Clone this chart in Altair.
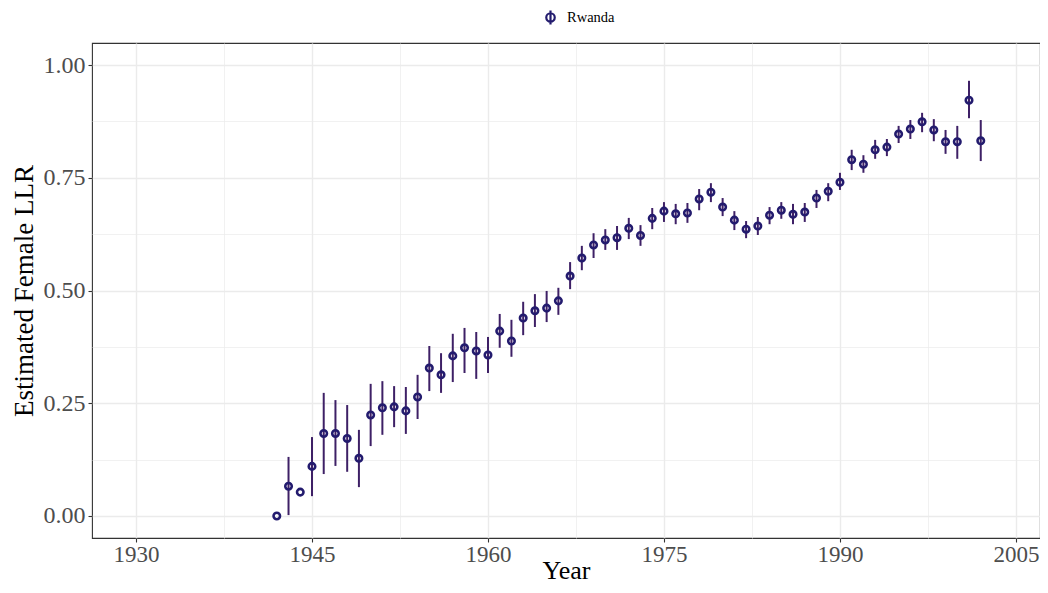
import altair as alt
import pandas as pd

years = list(range(1942, 2003))
estimate = [0.000, 0.066, 0.053, 0.110, 0.183, 0.183, 0.172, 0.128, 0.224, 0.240,
            0.242, 0.233, 0.264, 0.328, 0.313, 0.355, 0.373, 0.366, 0.357, 0.410,
            0.388, 0.439, 0.455, 0.461, 0.477, 0.532, 0.572, 0.601, 0.612, 0.617,
            0.638, 0.622, 0.660, 0.676, 0.670, 0.672, 0.703, 0.718, 0.685, 0.656,
            0.636, 0.643, 0.667, 0.678, 0.669, 0.674, 0.705, 0.720, 0.740, 0.790,
            0.780, 0.812, 0.818, 0.847, 0.858, 0.874, 0.856, 0.830, 0.830, 0.922,
            0.832]
lower = [0.000, 0.002, 0.053, 0.044, 0.093, 0.111, 0.098, 0.064, 0.155, 0.180,
         0.197, 0.182, 0.215, 0.277, 0.273, 0.297, 0.317, 0.304, 0.317, 0.373,
         0.353, 0.401, 0.419, 0.430, 0.446, 0.503, 0.545, 0.572, 0.590, 0.590,
         0.614, 0.599, 0.636, 0.652, 0.647, 0.650, 0.678, 0.696, 0.665, 0.634,
         0.616, 0.623, 0.647, 0.659, 0.647, 0.652, 0.683, 0.698, 0.723, 0.767,
         0.761, 0.792, 0.798, 0.827, 0.836, 0.851, 0.831, 0.803, 0.792, 0.882,
         0.787]
upper = [0.000, 0.131, 0.053, 0.175, 0.273, 0.257, 0.246, 0.191, 0.293, 0.299,
         0.288, 0.286, 0.313, 0.377, 0.361, 0.404, 0.417, 0.408, 0.397, 0.448,
         0.435, 0.475, 0.492, 0.499, 0.506, 0.563, 0.599, 0.627, 0.636, 0.643,
         0.661, 0.645, 0.683, 0.696, 0.692, 0.694, 0.725, 0.738, 0.705, 0.676,
         0.654, 0.663, 0.685, 0.696, 0.692, 0.694, 0.723, 0.738, 0.761, 0.812,
         0.800, 0.834, 0.836, 0.865, 0.878, 0.894, 0.880, 0.856, 0.865, 0.965,
         0.878]
country = "Rwanda"

x_ticks = [1930, 1937.5, 1945, 1952.5, 1960, 1967.5, 1975, 1982.5, 1990, 1997.5, 2005]
y_ticks = [0.0, 0.125, 0.25, 0.375, 0.5, 0.625, 0.75, 0.875, 1.0]

df = pd.DataFrame({"Year": years, "est": estimate, "lo": lower, "hi": upper,
                   "country": [country] * len(years)})

FONT = "Liberation Serif"
POINT_COLOR = "#231B6E"
BAR_COLOR = "#3E2066"

xscale = alt.Scale(domain=[1926.25, 2007.05], nice=False, zero=False)
yscale = alt.Scale(domain=[-0.0488, 1.0488], nice=False, zero=False)

x_major = "(datum.value - 1930) % 15 == 0"
y_major = "round(datum.value * 1000) % 250 == 0"

x_axis = alt.Axis(
    values=x_ticks, title="Year",
    labelExpr=f"{x_major} ? format(datum.value, 'd') : ''",
    gridWidth={"condition": {"test": x_major, "value": 1.4}, "value": 0.7},
    tickOpacity={"condition": {"test": x_major, "value": 1}, "value": 0},
    labelPadding=1, labelFontSize=23,
    titleFontSize=26, titleBaseline="alphabetic", titleY=40,
)
y_axis = alt.Axis(
    values=y_ticks, title="Estimated Female LLR",
    labelExpr=f"{y_major} ? format(datum.value, '.2f') : ''",
    gridWidth={"condition": {"test": y_major, "value": 1.4}, "value": 0.7},
    tickOpacity={"condition": {"test": y_major, "value": 1}, "value": 0},
    labelPadding=3, labelFontSize=24, titlePadding=5, titleFontSize=27,
)

base = alt.Chart(df)

bars = base.mark_rule(strokeWidth=2, color=BAR_COLOR).encode(
    x=alt.X("Year:Q", scale=xscale, axis=x_axis),
    y=alt.Y("lo:Q", scale=yscale, axis=y_axis),
    y2="hi:Q",
)

legend_path = "M0,-1L0,1M0.6,0A0.6,0.6,0,1,1,-0.6,0A0.6,0.6,0,1,1,0.6,0Z"

points = base.mark_point(filled=False, size=42, strokeWidth=2.6, opacity=1).encode(
    x=alt.X("Year:Q", scale=xscale),
    y=alt.Y("est:Q", scale=yscale),
    color=alt.Color("country:N", scale=alt.Scale(range=[POINT_COLOR]),
                    legend=alt.Legend(title=None, orient="none", legendX=450, legendY=-34,
                                      symbolType=legend_path, symbolSize=200,
                                      symbolStrokeWidth=2.2, symbolStrokeColor=POINT_COLOR,
                                      labelFont=FONT, labelFontSize=14.5, labelColor="#000000",
                                      labelOffset=8)),
)

chart = (bars + points).properties(
    width=948, height=495,
    autosize=alt.AutoSizeParams(type="none"),
    padding={"left": 84, "top": 35, "right": 0, "bottom": 46},
).configure_view(
    stroke="#333333", strokeWidth=1.1
).configure_axis(
    domain=False,
    gridColor="#EBEBEB",
    tickColor="#333333", tickSize=4, tickWidth=1.1,
    labelFont=FONT, labelColor="#4D4D4D",
    titleFont=FONT, titleColor="#000000", titleFontWeight="normal",
)

chart.save("out.html", embed_options={"renderer": "svg", "actions": False})
